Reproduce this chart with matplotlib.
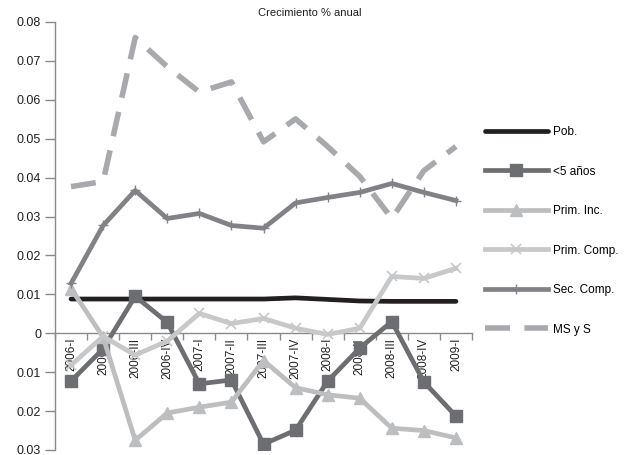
import matplotlib
matplotlib.use("Agg")
import matplotlib.pyplot as plt

categories = ["2006-I", "2006-II", "2006-III", "2006-IV",
              "2007-I", "2007-II", "2007-III", "2007-IV",
              "2008-I", "2008-II", "2008-III", "2008-IV", "2009-I"]

pob = [0.0088, 0.0088, 0.0088, 0.0088, 0.0088, 0.0088, 0.0088, 0.0091,
       0.0087, 0.0083, 0.0082, 0.0082, 0.0082]
menores5 = [-0.0123, -0.0040, 0.0095, 0.0028, -0.0130, -0.0120, -0.0285, -0.0249,
            -0.0123, -0.0038, 0.0030, -0.0125, -0.0213]
prim_inc = [0.0115, -0.0010, -0.0275, -0.0205, -0.0190, -0.0177, -0.0070, -0.0140,
            -0.0158, -0.0167, -0.0244, -0.0250, -0.0269]
prim_comp = [-0.0082, -0.0008, -0.0056, -0.0020, 0.0051, 0.0025, 0.0038, 0.0013,
             -0.0003, 0.0013, 0.0146, 0.0141, 0.0167]
sec_comp = [0.0128, 0.0277, 0.0367, 0.0295, 0.0308, 0.0277, 0.0270, 0.0335,
            0.0349, 0.0362, 0.0385, 0.0362, 0.0341]
msys = [0.0377, 0.0390, 0.0760, 0.0685, 0.0620, 0.0646, 0.0492, 0.0551,
        0.0480, 0.0403, 0.0295, 0.0418, 0.0480]

yticks = [-0.03, -0.02, -0.01, 0, 0.01, 0.02, 0.03, 0.04, 0.05, 0.06, 0.07, 0.08]
ytick_labels = ["0.03", "0.02", "0.01", "0", "0.01", "0.02", "0.03", "0.04",
                "0.05", "0.06", "0.07", "0.08"]

plt.rcParams['font.family'] = ['Liberation Sans', 'DejaVu Sans']

fig = plt.figure(figsize=(6.29, 4.55), dpi=100)
ax = fig.add_axes([55/629, 5/455, 417/629, 428/455])

x = list(range(len(categories)))
lw = 3.4

ax.plot(x, pob, color="#231f20", lw=lw, solid_capstyle="round", label="Pob.", zorder=3)
ax.plot(x, menores5, color="#6d6e71", lw=lw, marker="s", markersize=9,
        markeredgecolor="#6d6e71", label="<5 años", zorder=3)
ax.plot(x, prim_inc, color="#bcbec0", lw=lw, marker="^", markersize=8,
        markeredgecolor="#bcbec0", label="Prim. Inc.", zorder=3)
ax.plot(x, prim_comp, color="#c7c8ca", lw=lw, marker="x", markersize=7,
        markeredgewidth=1.2, markeredgecolor="#c7c8ca", label="Prim. Comp.", zorder=3)
ax.plot(x, sec_comp, color="#808285", lw=lw, marker="+", markersize=7,
        markeredgewidth=1.0, markeredgecolor="#808285", label="Sec. Comp.", zorder=3)
ax.plot(x, msys, color="#a7a9ac", lw=lw + 0.6, dashes=(4.5, 2.6), label="MS y S", zorder=3)

ax.set_xlim(-0.5, len(categories) - 0.5)
ax.set_ylim(-0.03, 0.08)

for s in ["top", "right"]:
    ax.spines[s].set_visible(False)
ax.spines["left"].set_color("#8a8a8a")
ax.spines["bottom"].set_color("#8a8a8a")
ax.spines["bottom"].set_position(("data", 0))
ax.spines["left"].set_linewidth(1.0)
ax.spines["bottom"].set_linewidth(1.0)

ax.set_yticks(yticks)
ax.set_yticklabels(ytick_labels)
ax.tick_params(axis="y", direction="out", length=7, width=1.0, color="#8a8a8a",
               labelsize=9, pad=3, labelcolor="#231f20")
ax.set_xticks([i - 0.5 for i in range(len(categories) + 1)])
ax.set_xticklabels([])
ax.tick_params(axis="x", direction="out", length=5, width=1.0, color="#8a8a8a")

for i, c in enumerate(categories):
    ax.text(i, -0.0012, c, rotation=90, ha="center", va="top", fontsize=8.5,
            color="#231f20", zorder=2)

fig.text(0.493, 0.972, "Crecimiento % anual", ha="center", va="center", fontsize=8,
         color="#231f20")

leg = ax.legend(loc="upper left", bbox_to_anchor=(485/629, 1 - 126/455),
                bbox_transform=fig.transFigure, frameon=False, fontsize=8.5,
                handlelength=5.3, handletextpad=0.45, labelspacing=2.33,
                borderaxespad=0, borderpad=0)

fig.savefig("out.png", dpi=100)
